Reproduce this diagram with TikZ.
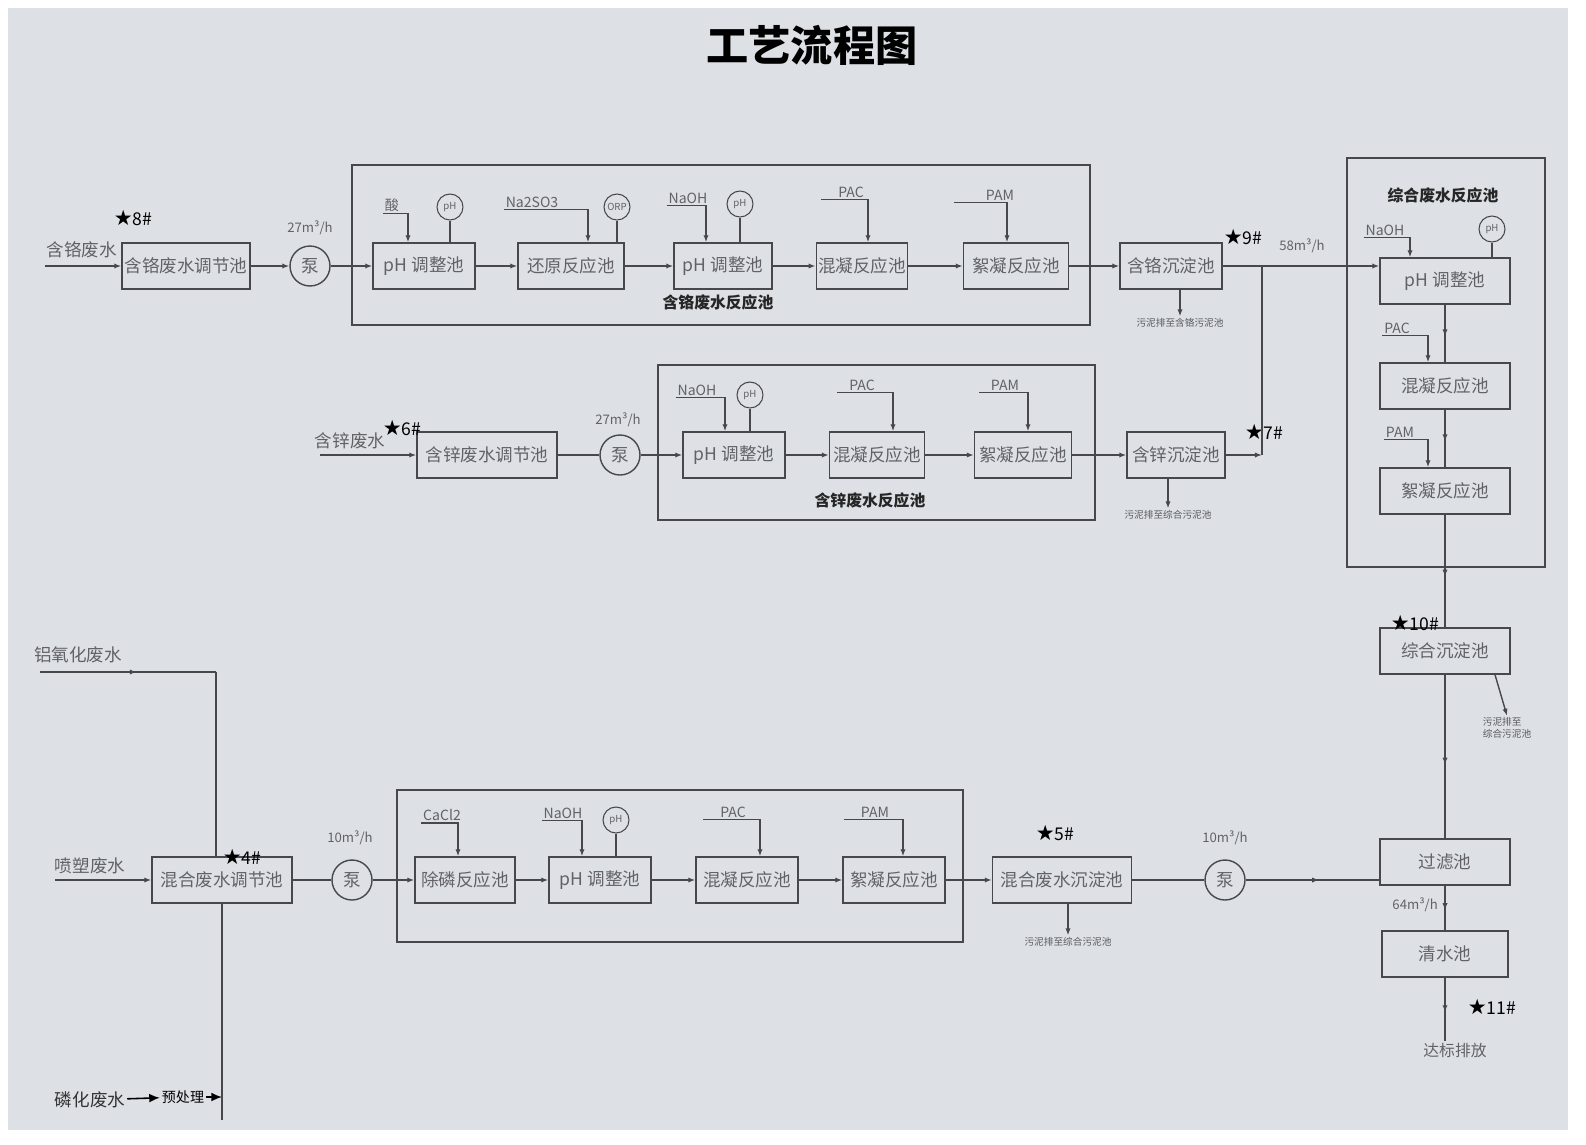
\documentclass[tikz,border=0pt]{standalone}
\usepackage{fontspec}
\setmainfont{Noto Sans CJK SC}
\newfontfamily\symfont{DejaVu Sans}
\usetikzlibrary{arrows.meta,decorations.markings}
\definecolor{paper}{RGB}{221,225,230}
\definecolor{linec}{RGB}{72,72,76}
\definecolor{textc}{RGB}{98,98,102}
\tikzset{
  tank/.style={draw=linec, line width=0.8pt, text=textc, minimum height=0.92cm, inner sep=1pt, font=\fontsize{10}{10}\selectfont},
  pump/.style={circle, draw=linec, line width=0.8pt, text=textc, minimum size=0.8cm, inner sep=0pt, font=\fontsize{10}{10}\selectfont},
  meter/.style={circle, draw=linec, line width=0.6pt, text=textc, minimum size=0.52cm, inner sep=0pt, font=\fontsize{5.5}{6}\selectfont},
  chem/.style={text=textc, inner sep=1pt, font=\fontsize{8}{8}\selectfont},
  rate/.style={text=textc, inner sep=1pt, font=\fontsize{7.5}{8}\selectfont},
  note/.style={text=textc!90!black, inner sep=1pt, font=\fontsize{5.5}{6.5}\selectfont, align=left},
  inlbl/.style={text=textc, inner sep=1pt, font=\fontsize{10}{10}\selectfont},
  group/.style={draw=linec, line width=0.8pt},
  grouptitle/.style={text=black!85, inner sep=1pt, font=\bfseries\fontsize{9}{9}\selectfont},
  spot/.style={text=black, inner sep=0pt, font=\fontsize{10}{10}\selectfont},
  pipe/.style={draw=linec, line width=0.8pt},
  flow/.style={pipe, -{Latex[length=4pt,width=3pt]}},
  midflow/.style={pipe, postaction={decorate}, decoration={markings, mark=at position 0.55 with {\arrow{Latex[length=4pt,width=3pt]}}}},
  blackflow/.style={draw=black, line width=0.9pt, -{Latex[length=6pt,width=5pt]}},
}
\newcommand{\spotlbl}[1]{{\symfont\fontsize{12}{12}\selectfont ★}#1}
\begin{document}
\begin{tikzpicture}[x=0.02cm, y=-0.02cm]
  \fill[white] (0,0) rectangle (1586,1144);
  \fill[paper] (8,8) rectangle (1568,1130);
  \node[font=\bfseries\fontsize{24}{24}\selectfont] (title) at (812,45) {工艺流程图};

  % 含铬
  \draw[group] (352,165) rectangle (1090,325);
  \node[grouptitle] (crGrp) at (718,302) {含铬废水反应池};
  \node[inlbl] (crLbl) at (82,250) {含铬废水};
  \coordinate (crIn) at (45,266);
  \node[tank, minimum width=2.56cm] (crEq) at (186,266) {含铬废水调节池};
  \node[pump] (crPump) at (310,266) {泵};
  \node[rate] (crRate) at (310,228) {27m³/h};
  \node[tank, minimum width=2.04cm] (crPh1) at (424,266) {pH 调整池};
  \node[tank, minimum width=2.12cm] (crRed) at (571,266) {还原反应池};
  \node[tank, minimum width=1.96cm] (crPh2) at (723,266) {pH 调整池};
  \node[tank, minimum width=1.76cm] (crCoag) at (862,266) {混凝反应池};
  \node[tank, minimum width=2.1cm] (crFloc) at (1016,266) {絮凝反应池};
  \node[tank, minimum width=2.04cm] (crSed) at (1171,266) {含铬沉淀池};
  \foreach \a/\b in {crIn/crEq, crEq/crPump, crPump/crPh1, crPh1/crRed, crRed/crPh2, crPh2/crCoag, crCoag/crFloc, crFloc/crSed}
    \draw[flow] (\a) -- (\b);
  \node[chem] (crAcid) at (392,205) {酸};
  \draw[flow] (crAcid.south west) -| (408,0 |- crPh1.north);
  \node[meter] (crM1) at (450,207) {pH};
  \draw[pipe] (crM1) -- (crM1 |- crPh1.north);
  \node[chem] (crNa) at (532,202) {Na2SO3};
  \draw[flow] (crNa.south west) -| (588,0 |- crRed.north);
  \node[meter] (crOrp) at (617,207) {ORP};
  \draw[pipe] (crOrp) -- (crOrp |- crRed.north);
  \node[chem] (crNaoh) at (688,198) {NaOH};
  \draw[flow] (crNaoh.south west) -| (706,0 |- crPh2.north);
  \node[meter] (crM2) at (740,204) {pH};
  \draw[pipe] (crM2) -- (crM2 |- crPh2.north);
  \node[chem] (crPac) at (851,192) {PAC};
  \draw[flow] ([xshift=-0.3cm]crPac.south west) -| (868,0 |- crCoag.north);
  \node[chem] (crPam) at (1000,195) {PAM};
  \draw[flow] ([xshift=-0.6cm]crPam.south west) -| (1007,0 |- crFloc.north);
  \node[note] (crSl) at (1180,323) {污泥排至含铬污泥池};
  \draw[flow] (crSed.south -| crSl.north) -- (crSl.north);
  \node[spot] (s8) at (133,218) {\spotlbl{8\#}};
  \node[spot] (s9) at (1243,237) {\spotlbl{9\#}};
  \node[rate] (crRate2) at (1302,246) {58m³/h};

  % 含锌
  \draw[group] (658,365) rectangle (1095,520);
  \node[grouptitle] (znGrp) at (870,500) {含锌废水反应池};
  \node[inlbl] (znLbl) at (350,441) {含锌废水};
  \coordinate (znIn) at (320,455);
  \node[tank, minimum width=2.8cm] (znEq) at (487,455) {含锌废水调节池};
  \node[pump] (znPump) at (620,455) {泵};
  \node[rate] (znRate) at (618,420) {27m³/h};
  \node[tank, minimum width=2.04cm] (znPh) at (734,455) {pH 调整池};
  \node[tank, minimum width=1.9cm] (znCoag) at (877,455) {混凝反应池};
  \node[tank, minimum width=1.94cm] (znFloc) at (1023,455) {絮凝反应池};
  \node[tank, minimum width=1.96cm] (znSed) at (1176,455) {含锌沉淀池};
  \draw[flow] (znIn) -- (znEq);
  \draw[pipe] (znEq) -- (znPump);
  \foreach \a/\b in {znPump/znPh, znPh/znCoag, znCoag/znFloc, znFloc/znSed}
    \draw[flow] (\a) -- (\b);
  \node[chem] (znNaoh) at (697,390) {NaOH};
  \draw[flow] (znNaoh.south west) -| (725,0 |- znPh.north);
  \node[meter] (znM) at (750,395) {pH};
  \draw[pipe] (znM) -- (znM |- znPh.north);
  \node[chem] (znPac) at (862,385) {PAC};
  \draw[flow] ([xshift=-0.2cm]znPac.south west) -| (893,0 |- znCoag.north);
  \node[chem] (znPam) at (1005,385) {PAM};
  \draw[flow] ([xshift=-0.2cm]znPam.south west) -| (1028,0 |- znFloc.north);
  \node[note] (znSl) at (1168,515) {污泥排至综合污泥池};
  \draw[flow] (znSed.south -| znSl.north) -- (znSl.north);
  \node[spot] (s6) at (402,428) {\spotlbl{6\#}};
  \node[spot] (s7) at (1264,432) {\spotlbl{7\#}};
  \coordinate (jn) at (1262,266);

  % 综合
  \draw[group] (1347,158) rectangle (1545,567);
  \node[grouptitle] (mixGrp) at (1443,195) {综合废水反应池};
  \node[tank, minimum width=2.6cm] (mixPh) at (1445,281) {pH 调整池};
  \node[tank, minimum width=2.6cm] (mixCoag) at (1445,386) {混凝反应池};
  \node[tank, minimum width=2.6cm] (mixFloc) at (1445,491) {絮凝反应池};
  \node[tank, minimum width=2.6cm] (mixSed) at (1445,651) {综合沉淀池};
  \node[tank, minimum width=2.6cm] (filt) at (1445,862) {过滤池};
  \node[tank, minimum width=2.52cm] (clear) at (1445,954) {清水池};
  \draw[flow] (crSed.east) -- (crSed.east -| mixPh.west);
  \draw[flow] (znSed.east) -- (znSed.east -| jn);
  \draw[pipe] (znSed.east -| jn) -- (jn);
  \foreach \a/\b in {mixPh/mixCoag, mixCoag/mixFloc, mixFloc/mixSed, mixSed/filt, filt/clear}
    \draw[midflow] (\a.south) -- (\b.north);
  \node[chem] (mixNaoh) at (1385,230) {NaOH};
  \draw[flow] (mixNaoh.south west) -| (1410,0 |- mixPh.north);
  \node[meter] (mixM) at (1492,229) {pH};
  \draw[pipe] (mixM) -- (mixM |- mixPh.north);
  \node[chem] (mixPac) at (1397,328) {PAC};
  \draw[flow] (mixPac.south west) -| (1428,0 |- mixCoag.north);
  \node[chem] (mixPam) at (1400,432) {PAM};
  \draw[flow] (mixPam.south west) -| (1428,0 |- mixFloc.north);
  \node[note] (mixSl) at (1507,728) {污泥排至\\综合污泥池};
  \draw[flow] (1495,0 |- mixSed.south) -- (mixSl.north);
  \node[spot] (s10) at (1415,623) {\spotlbl{10\#}};
  \node[rate, anchor=east] (clRate) at (1440,905) {64m³/h};
  \node[inlbl, font=\fontsize{9}{9}\selectfont] (outLbl) at (1455,1050) {达标排放};
  \draw[midflow] (clear.south) -- (clear.south |- outLbl.north);
  \node[spot] (s11) at (1492,1007) {\spotlbl{11\#}};

  % 混合
  \draw[group] (397,790) rectangle (963,942);
  \node[tank, minimum width=2.8cm] (mxEq) at (222,880) {混合废水调节池};
  \node[pump] (mxPump) at (352,880) {泵};
  \node[rate] (mxRate) at (350,838) {10m³/h};
  \node[tank, minimum width=2.0cm] (mxP) at (465,880) {除磷反应池};
  \node[tank, minimum width=2.04cm] (mxPh) at (600,880) {pH 调整池};
  \node[tank, minimum width=2.04cm] (mxCoag) at (747,880) {混凝反应池};
  \node[tank, minimum width=2.04cm] (mxFloc) at (894,880) {絮凝反应池};
  \node[tank, minimum width=2.78cm] (mxSed) at (1062,880) {混合废水沉淀池};
  \node[pump] (mxPump2) at (1225,880) {泵};
  \node[rate] (mxRate2) at (1225,838) {10m³/h};
  \draw[pipe] (mxEq) -- (mxPump);
  \foreach \a/\b in {mxPump/mxP, mxP/mxPh, mxPh/mxCoag, mxCoag/mxFloc, mxFloc/mxSed}
    \draw[flow] (\a) -- (\b);
  \draw[pipe] (mxSed) -- (mxPump2);
  \draw[midflow] (mxPump2) -- (mxPump2 -| filt.west);
  \node[chem] (mxCa) at (442,815) {CaCl2};
  \draw[flow] (mxCa.south west) -| (458,0 |- mxP.north);
  \node[chem] (mxNaoh) at (563,813) {NaOH};
  \draw[flow] (mxNaoh.south west) -| (582,0 |- mxPh.north);
  \node[meter] (mxM) at (616,820) {pH};
  \draw[pipe] (mxM) -- (mxM |- mxPh.north);
  \node[chem] (mxPac) at (733,812) {PAC};
  \draw[flow] ([xshift=-0.3cm]mxPac.south west) -| (760,0 |- mxCoag.north);
  \node[chem] (mxPam) at (875,812) {PAM};
  \draw[flow] ([xshift=-0.3cm]mxPam.south west) -| (903,0 |- mxFloc.north);
  \node[note] (mxSl) at (1068,942) {污泥排至综合污泥池};
  \draw[flow] (mxSed.south -| mxSl.north) -- (mxSl.north);
  \node[spot] (s4) at (242,857) {\spotlbl{4\#}};
  \node[spot] (s5) at (1055,833) {\spotlbl{5\#}};

  \node[inlbl] (alLbl) at (78,655) {铝氧化废水};
  \coordinate (alIn) at (40,672);
  \coordinate (alBend) at (216,672);
  \draw[midflow] (alIn) -- (alBend);
  \draw[pipe] (alBend) -- (alBend |- mxEq.north);
  \node[inlbl] (spLbl) at (90,866) {喷塑废水};
  \coordinate (spIn) at (55,880);
  \draw[flow] (spIn) -- (mxEq.west);
  \node[inlbl, text=black!80] (phLbl) at (90,1100) {磷化废水};
  \node[chem, text=black] (pre) at (183,1097) {预处理};
  \coordinate (phJoin) at (222,1097);
  \coordinate (phBot) at (222,1120);
  \draw[blackflow] (phLbl) -- (pre);
  \draw[blackflow] (pre) -- (phJoin);
  \draw[pipe] (phBot) -- (mxEq.south);

  \pgfresetboundingbox
  \useasboundingbox (0,0) rectangle (1586,1144);
\end{tikzpicture}
\end{document}
